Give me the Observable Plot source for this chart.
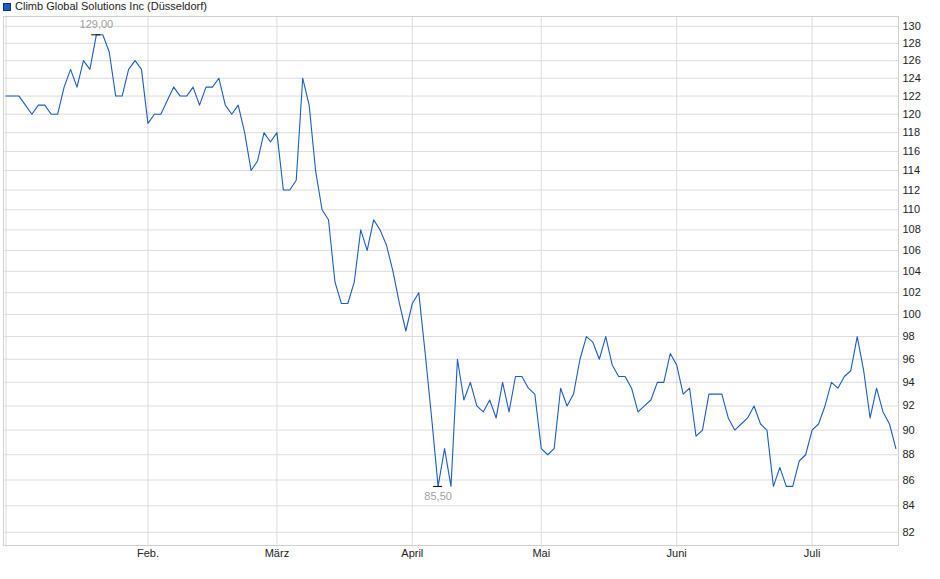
<!DOCTYPE html>
<html>
<head>
<meta charset="utf-8">
<script src="https://cdn.jsdelivr.net/npm/d3@7"></script>
<script src="https://cdn.jsdelivr.net/npm/@observablehq/plot@0.6"></script>
<style>
  body { margin: 0; background: #fff; font-family: "Liberation Sans", Arial, sans-serif; }
  #legend { height: 13px; position: relative; font-size: 11px; color: #222; }
  #legend .sw { position: absolute; left: 3px; top: 3px; width: 6px; height: 6px; background: #1f5cc9; border: 1px solid #0c3580; }
  #legend .lb { position: absolute; left: 15px; top: 0; line-height: 13px; white-space: nowrap; }
  #chart svg { display: block; }
</style>
</head>
<body>
<div id="legend"><span class="sw"></span><span class="lb">Climb Global Solutions Inc (Düsseldorf)</span></div>
<div id="chart"></div>
<script>
// Daily closing prices (EUR), one value per trading day, early Jan to mid July
const closes = [
  122, 122, 122, 121, 120, 121, 121, 120, 120, 123, 125, 123, 126, 125, 129, 129, 127, 122, 122, 125, 126, 125,
  119, 120, 120, 121.5, 123, 122, 122, 123, 121, 123, 123, 124, 121, 120, 121, 118, 114, 115, 118, 117,
  118, 112, 112, 113, 124, 121, 114, 110, 109, 103, 101, 101, 103, 108, 106, 109, 108, 106.5, 104, 101, 98.5,
  101, 102, 96.5, 91, 85.5, 88.5, 85.5, 96, 92.5, 94, 92, 91.5, 92.5, 91, 94, 91.5, 94.5, 94.5, 93.5, 93,
  88.5, 88, 88.5, 93.5, 92, 93, 96, 98, 97.5, 96, 98, 95.5, 94.5, 94.5, 93.5, 91.5, 92, 92.5, 94, 94, 96.5,
  95.5, 93, 93.5, 89.5, 90, 93, 93, 93, 91, 90, 90.5, 91, 92, 90.5, 90, 85.5, 87, 85.5, 85.5, 87.5, 88,
  90, 90.5, 92, 94, 93.5, 94.5, 95, 98, 95, 91, 93.5, 91.5, 90.5, 88.5
];
const monthLabels = ["Feb.", "März", "April", "Mai", "Juni", "Juli"];
const monthStartIndex = [22, 42, 63, 83, 104, 125];
const yTickValues = [82, 84, 86, 88, 90, 92, 94, 96, 98, 100, 102, 104, 106, 108, 110, 112, 114, 116, 118, 120, 122, 124, 126, 128, 130];

const series = closes.map((v, i) => ({i, v}));
const iMax = d3.maxIndex(closes);
const iMin = d3.minIndex(closes);
const maxPt = [{i: iMax, v: closes[iMax]}];
const minPt = [{i: iMin, v: closes[iMin]}];
const fmt = v => v.toFixed(2).replace(".", ",");
const labelOf = new Map(monthStartIndex.map((d, k) => [d, monthLabels[k]]));

const grid = "#dcdcdc";
const chart = Plot.plot({
  width: 940,
  height: 566,
  marginLeft: 3,
  marginRight: 42,
  marginTop: 3,
  marginBottom: 34,
  style: {fontFamily: "'Liberation Sans', Arial, sans-serif", fontSize: "11px", color: "#222", background: "#fff"},
  x: {type: "linear", domain: [-0.4, 138.4]},
  y: {type: "log", domain: [81.02, 131.17]},
  marks: [
    Plot.ruleY(yTickValues, {stroke: grid, strokeWidth: 1}),
    Plot.ruleX([0, ...monthStartIndex], {stroke: grid, strokeWidth: 1}),
    Plot.frame({stroke: "#cfcfcf"}),
    Plot.axisX([0, ...monthStartIndex], {
      tickSize: 2, tickPadding: 2, stroke: grid, fill: "#222",
      tickFormat: d => labelOf.get(d) ?? "", label: null
    }),
    Plot.axisY(yTickValues, {
      anchor: "right", tickSize: 0, tickPadding: 4, fill: "#222",
      tickFormat: d => String(d), label: null
    }),
    Plot.lineY(series, {x: "i", y: "v", stroke: "#1a5cc8", strokeWidth: 1.1}),
    Plot.ruleY([...maxPt, ...minPt], {y: "v", x1: d => d.i - 0.7, x2: d => d.i + 0.7, stroke: "#000", strokeWidth: 1}),
    Plot.text(maxPt, {x: "i", y: "v", dy: -10, text: d => fmt(d.v), fill: "#a0a0a0", fontSize: 11}),
    Plot.text(minPt, {x: "i", y: "v", dy: 10, text: d => fmt(d.v), fill: "#a0a0a0", fontSize: 11})
  ]
});
document.getElementById("chart").appendChild(chart);
</script>
</body>
</html>
